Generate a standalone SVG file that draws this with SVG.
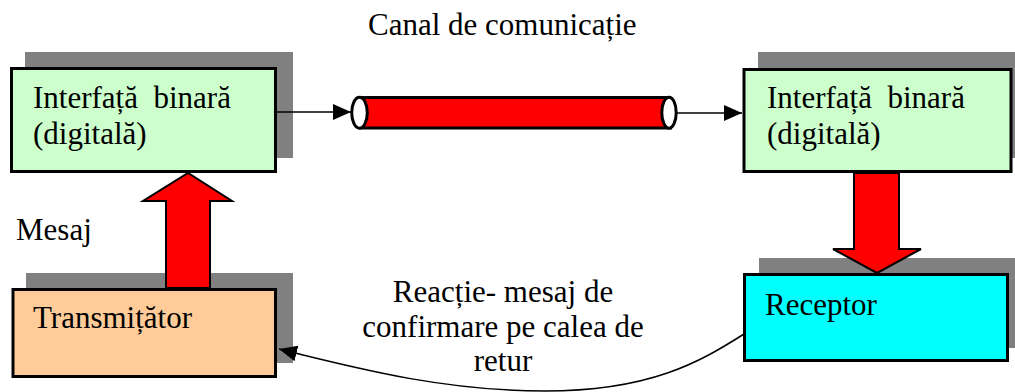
<svg xmlns="http://www.w3.org/2000/svg" width="1015" height="392" viewBox="0 0 1015 392">
<style>
text{font-family:"Liberation Serif","Times New Roman",serif;font-size:31px;fill:#000}
.shadow{fill:#808080}
.box{stroke:#000;stroke-width:3}
.blk{fill:#ff0000;stroke:#000;stroke-width:2;stroke-linejoin:miter}
.conn{fill:none;stroke:#000;stroke-width:1.5}
</style>
<defs>
<marker id="ah" markerWidth="18" markerHeight="16" refX="18" refY="8" orient="auto" markerUnits="userSpaceOnUse">
<path d="M0,0 L18,8 L0,16 Z" fill="#000"/>
</marker>
</defs>
<rect width="1015" height="392" fill="#fff"/>
<text x="368" y="35">Canal de comunicație</text>
<g id="interfata-tx">
<rect class="shadow" x="25" y="52" width="268" height="106"/>
<rect class="box" x="11.5" y="68.5" width="264" height="103" fill="#ccffcc"/>
<text x="33" y="108" xml:space="preserve">Interfață  binară</text>
<text x="33" y="144">(digitală)</text>
</g>
<g id="interfata-rx">
<rect class="shadow" x="758" y="52" width="268" height="106"/>
<rect class="box" x="744" y="69.5" width="267" height="102" fill="#ccffcc"/>
<text x="767" y="108" xml:space="preserve">Interfață  binară</text>
<text x="767" y="144">(digitală)</text>
</g>
<g id="transmitator">
<rect class="shadow" x="26" y="273" width="267" height="90"/>
<rect class="box" x="13" y="289.5" width="262.5" height="87" fill="#ffcc99"/>
<text x="33" y="328">Transmițător</text>
</g>
<g id="receptor">
<rect class="shadow" x="759" y="258" width="266" height="90"/>
<rect class="box" x="744.5" y="274.5" width="263" height="86" fill="#00ffff"/>
<text x="765" y="315">Receptor</text>
</g>
<g id="arrow-mesaj">
<polygon class="blk" points="166,288 166,201 143,201 188,173 232,201 210,201 210,288"/>
</g>
<g id="arrow-receptor">
<polygon class="blk" points="854,173 854,249 833,249 877,273 921,249 899,249 899,173"/>
</g>
<g id="canal">
<rect x="359.5" y="97.5" width="312" height="30.5" fill="#ff0000"/>
<line x1="359.5" y1="97.5" x2="669" y2="97.5" stroke="#000" stroke-width="3"/>
<line x1="359.5" y1="128" x2="672" y2="128" stroke="#000" stroke-width="3"/>
<ellipse cx="359.5" cy="112.7" rx="7.8" ry="15.5" fill="#fff" stroke="#000" stroke-width="3"/>
<ellipse cx="669" cy="112.7" rx="7.2" ry="15.5" fill="#fff" stroke="#000" stroke-width="3"/>
</g>
<g id="connectors">
<line class="conn" x1="277" y1="112" x2="351" y2="112" marker-end="url(#ah)"/>
<line class="conn" x1="677" y1="113" x2="742" y2="113" marker-end="url(#ah)"/>
<path class="conn" d="M744,334 C700,362 650,391 545,391 C450,391 370,372 279,349" marker-end="url(#ah)"/>
</g>
<text x="16" y="240">Mesaj</text>
<text x="503" y="302" text-anchor="middle">Reacție- mesaj de</text>
<text x="503" y="337" text-anchor="middle">confirmare pe calea de</text>
<text x="503" y="371" text-anchor="middle">retur</text>
</svg>
